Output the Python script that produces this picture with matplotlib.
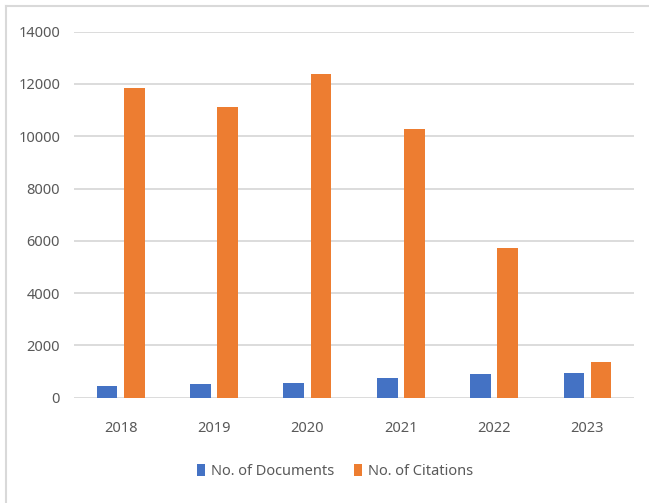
"""Documents and citations per year, grouped bar chart."""

import matplotlib

matplotlib.use("Agg")
import matplotlib.pyplot as plt
import numpy as np
from matplotlib.lines import Line2D

years = ["2018", "2019", "2020", "2021", "2022", "2023"]
documents = [436, 535, 574, 742, 906, 945]
citations = [11850, 11120, 12370, 10280, 5740, 1365]
y_ticks = [0, 2000, 4000, 6000, 8000, 10000, 12000, 14000]

BLUE = "#4472C4"
ORANGE = "#ED7D31"
GRID = "#D9D9D9"
TEXT = "#595959"

plt.rcParams["font.family"] = ["Noto Sans", "DejaVu Sans"]

fig = plt.figure(figsize=(6.49, 5.03), dpi=100)
ax = fig.add_axes([0.114, 0.2093, 0.863, 0.7277])

x = np.arange(len(years))
width = 0.222
offset = 0.145
ax.bar(x - offset, documents, width, color=BLUE, label="No. of Documents", zorder=3)
ax.bar(x + offset, citations, width, color=ORANGE, label="No. of Citations", zorder=3)

ax.set_xlim(-0.5, len(years) - 0.5)
ax.set_ylim(0, 14000)
ax.set_yticks(y_ticks)
ax.set_yticklabels([str(v) for v in y_ticks])
ax.set_xticks(x)
ax.set_xticklabels(years)
ax.yaxis.grid(True, color=GRID, linewidth=1.3, zorder=0)
ax.tick_params(length=0, labelsize=10.5, labelcolor=TEXT)
ax.tick_params(axis="y", pad=10)
ax.tick_params(axis="x", pad=17)
for spine in ax.spines.values():
    spine.set_visible(False)

ax.legend(
    loc="upper center",
    bbox_to_anchor=(0.466, -0.145),
    ncol=2,
    frameon=False,
    fontsize=10.5,
    labelcolor=TEXT,
    handlelength=0.6,
    handleheight=0.9,
    handletextpad=0.4,
    columnspacing=1.3,
)

# outer chart border (only top and left visible in the reference)
fig.add_artist(Line2D([6 / 649, 6 / 649], [0, 1 - 6 / 503], color=GRID, linewidth=1.5))
fig.add_artist(Line2D([6 / 649, 1], [1 - 6 / 503, 1 - 6 / 503], color=GRID, linewidth=1.5))

fig.savefig("out.png", dpi=100)
plt.close(fig)
